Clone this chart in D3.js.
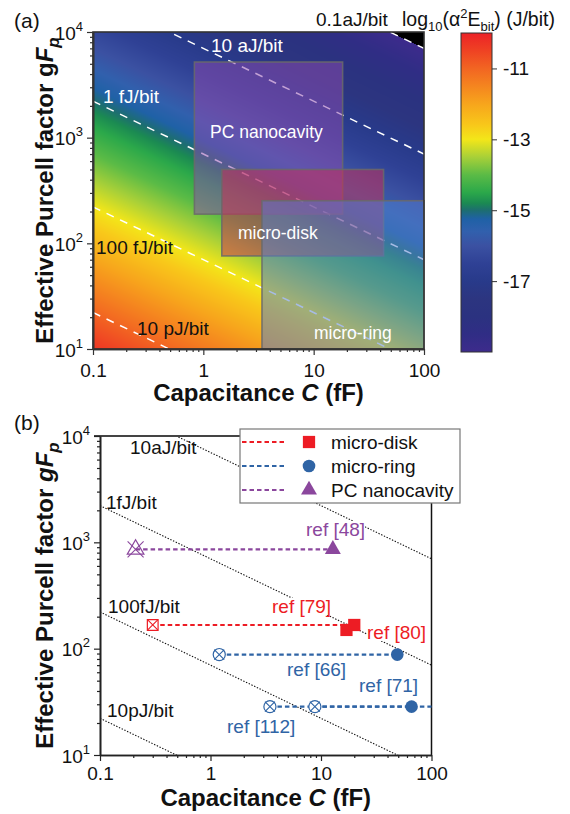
<!DOCTYPE html>
<html>
<head>
<meta charset="utf-8">
<script src="https://cdn.jsdelivr.net/npm/d3@7"></script>
<style>
  body { margin: 0; background: #fff; }
  text { font-family: Arial, "Liberation Sans", sans-serif; }
</style>
</head>
<body>
<svg id="fig" width="570" height="814"></svg>
<script>

// ---- data ----
var capTicks = [0.1, 1, 10, 100];
var purcellTicks = [10, 100, 1000, 10000];

// E_bit (J) = energyConst / (C[fF] * gFp^2)
var energyConst = 4.9e-10;

var colorTicks = [-11, -13, -15, -17];
var colorDomain = [-19, -10];
var colorStopValues = [-19, -18.5, -18, -17.5, -17, -16.5, -16, -15.6, -15.25, -15, -14.8, -14.5, -14, -13.5, -13, -12.6, -12, -11, -10.5, -10];
var colorStopHex = ["#3d2b8c", "#302d85", "#2b3280", "#2c3580", "#283a8a", "#2f4195", "#3b51a2", "#3160ad", "#1f61a6", "#1d6e70", "#1b8a52", "#2ba84a", "#5bbb46", "#a8d038", "#f3e619", "#f8c81a", "#f7a51c", "#f26522", "#ef4223", "#ec2227"];

var contourEnergyA = [1e-19, 1e-17, 1e-15, 1e-13, 1e-11];
var contourLabelA = ["0.1aJ/bit", "10 aJ/bit", "1 fJ/bit", "100 fJ/bit", "10 pJ/bit"];

var cavityNames = ["PC nanocavity", "micro-disk", "micro-ring"];
var cavityCapMin = [0.83, 1.47, 3.4];
var cavityCapMax = [18.3, 43, 100];
var cavityPurcellMin = [189, 76, 10];
var cavityPurcellMax = [5200, 500, 253];

var contourEnergyB = [1e-17, 1e-15, 1e-13, 1e-11];
var contourLabelB = ["10aJ/bit", "1fJ/bit", "100fJ/bit", "10pJ/bit"];

var seriesNames = ["micro-disk", "micro-ring", "PC nanocavity"];
var seriesColors = ["#ed1c24", "#2f64a5", "#8b479d"];

var segSeries = ["micro-disk", "micro-ring", "micro-ring", "micro-ring", "PC nanocavity"];
var segCapFrom = [0.3, 1.2, 3.45, 8.8, 0.21];
var segCapTo = [20, 49, 66, 100, 12.8];
var segPurcell = [167, 88, 28.5, 28.5, 860];

var openSeries = ["micro-disk", "micro-ring", "micro-ring", "micro-ring", "PC nanocavity"];
var openCap = [0.3, 1.2, 3.45, 8.8, 0.21];
var openPurcell = [167, 88, 28.5, 28.5, 860];

var filledSeries = ["micro-disk", "micro-disk", "micro-ring", "micro-ring", "PC nanocavity"];
var filledCap = [17, 20, 49, 66, 12.8];
var filledPurcell = [150, 167, 88, 28.5, 860];

var refNames = ["ref [79]", "ref [80]", "ref [66]", "ref [71]", "ref [112]", "ref [48]"];
var refSeries = ["micro-disk", "micro-disk", "micro-ring", "micro-ring", "micro-ring", "PC nanocavity"];

// ---- helpers ----
var svg = d3.select("#fig");
var seriesColor = d3.scaleOrdinal().domain(seriesNames).range(seriesColors);

function minorTicks(domain) {
    var t = [];
    for (var e = Math.round(Math.log10(domain[0])); e < Math.round(Math.log10(domain[1])); e++)
        for (var m = 2; m < 10; m++) t.push(m * Math.pow(10, e));
    return t;
}

function purcellAt(cap, energy) {
    return Math.sqrt(energyConst / (cap * energy));
}

function drawAxes(g, x, y, w, h, stroke, labelY) {
    var bx = g.append("g").attr("transform", "translate(0," + h + ")");
    bx.call(d3.axisBottom(x).tickValues(minorTicks(x.domain())).tickSize(3).tickSizeOuter(0).tickFormat(""));
    var bxMajor = bx.append("g").call(d3.axisBottom(x).tickValues(capTicks).tickSize(6).tickSizeOuter(0).tickFormat(function (d) { return String(d); }));
    var ly = g.append("g");
    ly.call(d3.axisLeft(y).tickValues(minorTicks(y.domain())).tickSize(3).tickSizeOuter(0).tickFormat(""));
    var lyMajor = ly.append("g").call(d3.axisLeft(y).tickValues(purcellTicks).tickSize(6).tickSizeOuter(0).tickFormat(""));
    [bx, ly].forEach(function (a) {
        a.selectAll("path.domain").attr("stroke", stroke).attr("stroke-width", 1.6);
        a.selectAll(".tick line").attr("stroke", stroke).attr("stroke-width", 1.2);
        a.selectAll("text").attr("font-family", null).attr("font-size", null);
    });
    bxMajor.selectAll(".tick text").attr("font-size", "19px").attr("fill", "#111").attr("dy", null).attr("y", labelY);
    lyMajor.selectAll(".tick text").remove();
    lyMajor.selectAll(".tick").each(function (d) {
        var t = d3.select(this).append("text")
            .attr("x", -10).attr("y", 7).attr("text-anchor", "end")
            .attr("font-size", "19px").attr("fill", "#111");
        t.append("tspan").text("10");
        t.append("tspan").attr("dy", -9).attr("font-size", "13px").text(Math.round(Math.log10(d)));
    });
}

function axisTitles(g, w, h, yTitleX, xTitleY, italicG) {
    var xt = g.append("text").attr("x", w / 2).attr("y", xTitleY).attr("text-anchor", "middle")
        .attr("font-size", "24px").attr("font-weight", "bold").attr("fill", "#111");
    xt.append("tspan").text("Capacitance ");
    xt.append("tspan").attr("font-style", "italic").text("C");
    xt.append("tspan").text(" (fF)");
    var yt = g.append("text").attr("transform", "translate(" + yTitleX + "," + (h / 2) + ") rotate(-90)")
        .attr("text-anchor", "middle").attr("font-size", "24px").attr("font-weight", "bold").attr("fill", "#111");
    yt.append("tspan").text("Effective Purcell factor ");
    yt.append("tspan").attr("font-style", italicG ? "italic" : null).text("g");
    yt.append("tspan").attr("font-style", "italic").text("F");
    yt.append("tspan").attr("font-style", "italic").attr("font-size", "17px").attr("dy", 6).text("p");
}

// ---- panel (a) ----
var mA = {left: 93, top: 32}, wA = 331, hA = 317;
var xA = d3.scaleLog().domain([0.1, 100]).range([0, wA]);
var yA = d3.scaleLog().domain([10, 10000]).range([hA, 0]);
var color = d3.scaleLinear().domain(colorStopValues).range(colorStopHex).interpolate(d3.interpolateRgb).clamp(true);

var gA = svg.append("g").attr("transform", "translate(" + mA.left + "," + mA.top + ")");

svg.append("defs").append("clipPath").attr("id", "clipA")
    .append("rect").attr("width", wA).attr("height", hA);

// heat map
var canvas = document.createElement("canvas");
canvas.width = wA; canvas.height = hA;
var ctx = canvas.getContext("2d");
var img = ctx.createImageData(wA, hA);
for (var j = 0; j < hA; j++) {
    for (var i = 0; i < wA; i++) {
        var c = xA.invert(i + 0.5), gp = yA.invert(j + 0.5);
        var v = Math.log10(energyConst / (c * gp * gp));
        var col = v < colorDomain[0] ? d3.rgb(0, 0, 0) : d3.rgb(color(v));
        var k = (j * wA + i) * 4;
        img.data[k] = col.r; img.data[k + 1] = col.g; img.data[k + 2] = col.b; img.data[k + 3] = 255;
    }
}
ctx.putImageData(img, 0, 0);
gA.append("image").attr("width", wA).attr("height", hA)
    .attr("preserveAspectRatio", "none").attr("href", canvas.toDataURL());

// dashed contours
gA.append("g").attr("clip-path", "url(#clipA)")
    .selectAll("line").data(contourEnergyA).enter().append("line")
    .attr("x1", xA(0.1)).attr("y1", function (e) { return yA(purcellAt(0.1, e)); })
    .attr("x2", xA(100)).attr("y2", function (e) { return yA(purcellAt(100, e)); })
    .attr("stroke", "#fff").attr("stroke-width", 1.5).attr("stroke-dasharray", "8,7");

// cavity regions
var cavityFill = {"PC nanocavity": "#8c4baf", "micro-disk": "#cd2d55", "micro-ring": "#557dcd"};
gA.append("g").selectAll("rect").data(cavityNames).enter().append("rect")
    .attr("x", function (d, i) { return xA(cavityCapMin[i]); })
    .attr("y", function (d, i) { return yA(cavityPurcellMax[i]); })
    .attr("width", function (d, i) { return xA(cavityCapMax[i]) - xA(cavityCapMin[i]); })
    .attr("height", function (d, i) { return yA(cavityPurcellMin[i]) - yA(cavityPurcellMax[i]); })
    .attr("fill", function (d) { return cavityFill[d]; }).attr("fill-opacity", 0.52)
    .attr("stroke", "#6a6a6a").attr("stroke-opacity", 0.85).attr("stroke-width", 1.6);

gA.append("rect").attr("width", wA).attr("height", hA).attr("fill", "none")
    .attr("stroke", "#333").attr("stroke-width", 1.6);

// contour labels (panel a)
var labelPosA = [[223, -6], [118, 20], [10, 71], [3, 222], [44, 303]];
var labelFillA = ["#111", "#fff", "#fff", "#111", "#111"];
gA.selectAll("text.cl").data(contourLabelA).enter().append("text").attr("class", "cl")
    .attr("x", function (d, i) { return labelPosA[i][0]; })
    .attr("y", function (d, i) { return labelPosA[i][1]; })
    .attr("font-size", "19px").attr("fill", function (d, i) { return labelFillA[i]; })
    .text(function (d) { return d; });

var cavityLabelPos = [[117, 106], [145, 207], [221, 307]];
gA.selectAll("text.cav").data(cavityNames).enter().append("text").attr("class", "cav")
    .attr("x", function (d, i) { return cavityLabelPos[i][0]; })
    .attr("y", function (d, i) { return cavityLabelPos[i][1]; })
    .attr("font-family", "'Open Sans', 'Noto Sans', sans-serif").attr("font-size", "17.5px")
    .attr("fill", "#fff").text(function (d) { return d; });

drawAxes(gA, xA, yA, wA, hA, "#333", 28);
axisTitles(gA, wA, hA, -40, 369, false);

svg.append("text").attr("x", 14).attr("y", 28).attr("font-size", "21px").attr("fill", "#111").text("(a)");

// colour bar
var cbX = 461, cbW = 31;
var cbScale = d3.scaleLinear().domain(colorDomain).range([352, 33]);
var grad = svg.select("defs").append("linearGradient").attr("id", "cbGrad")
    .attr("x1", 0).attr("y1", 1).attr("x2", 0).attr("y2", 0);
grad.selectAll("stop").data(colorStopValues).enter().append("stop")
    .attr("offset", function (d) { return (d - colorDomain[0]) / (colorDomain[1] - colorDomain[0]); })
    .attr("stop-color", function (d, i) { return colorStopHex[i]; });
svg.append("rect").attr("x", cbX).attr("y", cbScale(colorDomain[1])).attr("width", cbW)
    .attr("height", cbScale(colorDomain[0]) - cbScale(colorDomain[1]))
    .attr("fill", "url(#cbGrad)").attr("stroke", "#333").attr("stroke-width", 1);
var cbAxis = svg.append("g").attr("transform", "translate(" + (cbX + cbW) + ",0)")
    .call(d3.axisRight(cbScale).tickValues(colorTicks).tickSize(5).tickSizeOuter(0).tickFormat(function (d) { return "-" + Math.abs(d); }));
cbAxis.select("path.domain").remove();
cbAxis.selectAll("text").attr("font-family", null).attr("font-size", "19px").attr("fill", "#111").attr("x", 11);
cbAxis.selectAll(".tick line").attr("stroke", "#333");

var cbt = svg.append("text").attr("x", 402).attr("y", 26).attr("font-size", "19.5px").attr("fill", "#111");
cbt.append("tspan").text("log");
cbt.append("tspan").attr("font-size", "13px").attr("dy", 5).text("10");
cbt.append("tspan").attr("dy", -5).text("(\u03b1");
cbt.append("tspan").attr("font-size", "13px").attr("dy", -8).text("2");
cbt.append("tspan").attr("dy", 8).text("E");
cbt.append("tspan").attr("font-size", "13px").attr("dy", 5).text("bit");
cbt.append("tspan").attr("dy", -5).text(") (J/bit)");

// ---- panel (b) ----
var mB = {left: 100, top: 436}, wB = 331.5, hB = 319;
var xB = d3.scaleLog().domain([0.1, 100]).range([0, wB]);
var yB = d3.scaleLog().domain([10, 10000]).range([hB, 0]);
var gB = svg.append("g").attr("transform", "translate(" + mB.left + "," + mB.top + ")");

svg.select("defs").append("clipPath").attr("id", "clipB")
    .append("rect").attr("width", wB).attr("height", hB);

gB.append("g").attr("clip-path", "url(#clipB)")
    .selectAll("line").data(contourEnergyB).enter().append("line")
    .attr("x1", xB(0.1)).attr("y1", function (e) { return yB(purcellAt(0.1, e)); })
    .attr("x2", xB(100)).attr("y2", function (e) { return yB(purcellAt(100, e)); })
    .attr("stroke", "#111").attr("stroke-width", 1.1).attr("stroke-dasharray", "1.4,1.6");

var labelPosB = [[30, 18], [6, 73], [8, 177], [7, 281]];
gB.selectAll("text.cl").data(contourLabelB).enter().append("text").attr("class", "cl")
    .attr("x", function (d, i) { return labelPosB[i][0]; })
    .attr("y", function (d, i) { return labelPosB[i][1]; })
    .attr("font-size", "19px").attr("fill", "#111").text(function (d) { return d; });

// frame: top and right
gB.append("line").attr("x1", -6).attr("x2", wB).attr("y1", 0).attr("y2", 0).attr("stroke", "#444").attr("stroke-width", 2);
gB.append("line").attr("x1", wB).attr("x2", wB).attr("y1", 0).attr("y2", hB).attr("stroke", "#111").attr("stroke-width", 1.5);

// ref labels with white backing
var refPos = [[172, 177], [267, 203], [187, 240], [259, 256], [127, 297], [206, 100]];
var refG = gB.append("g");
refNames.forEach(function (name, i) {
    var t = refG.append("text").attr("x", refPos[i][0]).attr("y", refPos[i][1])
        .attr("font-size", "19px").attr("fill", seriesColor(refSeries[i])).text(name);
    var bb = t.node().getBBox();
    refG.insert("rect", "text").attr("x", bb.x).attr("y", bb.y + 2).attr("width", bb.width)
        .attr("height", bb.height - 4).attr("fill", "#fff");
});

// dashed connections
gB.append("g").selectAll("line").data(segSeries).enter().append("line")
    .attr("x1", function (d, i) { return xB(segCapFrom[i]); })
    .attr("x2", function (d, i) { return xB(segCapTo[i]); })
    .attr("y1", function (d, i) { return yB(segPurcell[i]); })
    .attr("y2", function (d, i) { return yB(segPurcell[i]); })
    .attr("stroke", function (d) { return seriesColor(d); })
    .attr("stroke-width", 2.2).attr("stroke-dasharray", "4.5,3");

var symbolOf = {"micro-disk": d3.symbolSquare, "micro-ring": d3.symbolCircle, "PC nanocavity": d3.symbolTriangle};
var symbolSize = {"micro-disk": 150, "micro-ring": 125, "PC nanocavity": 110};

// open (crossed) markers
gB.append("g").selectAll("g").data(openSeries).enter().append("g")
    .attr("transform", function (d, i) { return "translate(" + xB(openCap[i]) + "," + yB(openPurcell[i]) + ")"; })
    .each(function (d) {
        var g = d3.select(this), col = seriesColor(d);
        var s = d === "PC nanocavity" ? 8 : 5;
        g.append("path").attr("d", d3.symbol(symbolOf[d], d === "PC nanocavity" ? 120 : 115)())
            .attr("fill", "#fff").attr("fill-opacity", d === "PC nanocavity" ? 0 : 1)
            .attr("stroke", col).attr("stroke-width", 1.2);
        g.append("path").attr("d", "M" + (-s) + "," + (-s) + "L" + s + "," + s + "M" + (-s) + "," + s + "L" + s + "," + (-s))
            .attr("stroke", col).attr("stroke-width", 1.1);
    });

// filled markers
gB.append("g").selectAll("path").data(filledSeries).enter().append("path")
    .attr("transform", function (d, i) { return "translate(" + xB(filledCap[i]) + "," + yB(filledPurcell[i]) + ")"; })
    .attr("d", function (d) { return d3.symbol(symbolOf[d], symbolSize[d])(); })
    .attr("fill", function (d) { return seriesColor(d); });

drawAxes(gB, xB, yB, wB, hB, "#222", 25);
axisTitles(gB, wB, hB, -47, 370, true);

svg.append("text").attr("x", 14).attr("y", 430).attr("font-size", "21px").attr("fill", "#111").text("(b)");

// legend
var lg = svg.append("g").attr("transform", "translate(240,429)");
lg.append("rect").attr("width", 220).attr("height", 74).attr("fill", "#fff")
    .attr("stroke", "#777").attr("stroke-width", 1.2);
var rows = lg.selectAll("g.row").data(seriesNames).enter().append("g").attr("class", "row")
    .attr("transform", function (d, i) { return "translate(0," + (13 + i * 24) + ")"; });
rows.append("line").attr("x1", 2).attr("x2", 47).attr("stroke", function (d) { return seriesColor(d); })
    .attr("stroke-width", 2.2).attr("stroke-dasharray", "4.5,3");
rows.append("path").attr("transform", "translate(69,0)")
    .attr("d", function (d) { return d3.symbol(symbolOf[d], symbolSize[d])(); })
    .attr("fill", function (d) { return seriesColor(d); });
rows.append("text").attr("x", 91).attr("y", 7).attr("font-size", "19px").attr("fill", "#111")
    .text(function (d) { return d; });

</script>
</body>
</html>
